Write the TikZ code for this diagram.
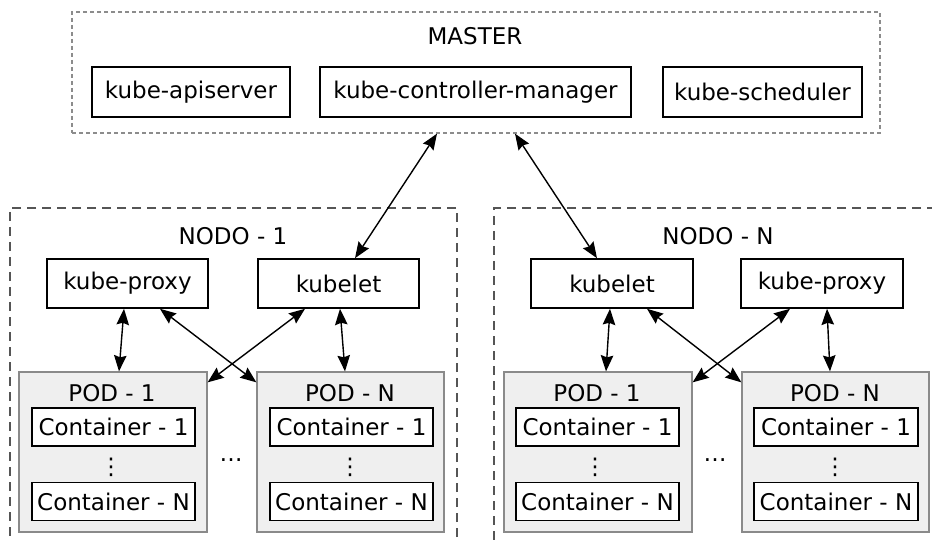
\documentclass[tikz,border=0pt]{standalone}
\usepackage{fontspec}
\setmainfont{DejaVu Sans}
\usetikzlibrary{arrows.meta,calc}

\definecolor{podfill}{HTML}{EFEFEF}
\definecolor{podline}{HTML}{8A8A8A}
\definecolor{framegray}{HTML}{555555}
\definecolor{mastergray}{HTML}{8C8C8C}

\tikzset{
  >={Stealth[length=16pt,width=12.5pt,inset=2pt]},
  lbl/.style={font=\fontsize{23}{27}\selectfont, inner sep=0pt},
  comp/.style={lbl, draw=black, line width=1.6pt, fill=white},
  pod/.style={draw=podline, fill=podfill, line width=1.3pt, minimum width=188pt, minimum height=160pt},
  cont/.style={lbl, draw=black, line width=1.6pt, fill=white, minimum width=163pt, minimum height=38pt},
  hostframe/.style={draw=framegray, line width=1.5pt, dash pattern=on 9pt off 6pt},
  masterframe/.style={draw=mastergray, line width=1.3pt, dash pattern=on 4pt off 3pt},
  link/.style={line width=1.4pt, <->}
}

\begin{document}
\begin{tikzpicture}[x=1pt,y=-1pt]
\useasboundingbox (0,0) rectangle (932,540);
\clip (0,0) rectangle (932,540);

% ---------------- master ----------------
\node[masterframe, minimum width=808pt, minimum height=121pt] (master) at (476,72.5) {};
\node[lbl] (mtitle) at (475,36) {MASTER};
\node[comp, minimum width=198pt, minimum height=50pt] (api) at (191,92) {kube-apiserver};
\node[comp, minimum width=311pt, minimum height=50pt] (ctrl) at (475.5,92) {kube-controller-manager};
\node[comp, minimum width=199pt, minimum height=50pt] (sched) at (762.5,92) {kube-scheduler};

% ---------------- worker node 1 ----------------
\node[hostframe, minimum width=447pt, minimum height=362pt] (n1) at (233.5,389) {};
\node[lbl] (n1title) at (233,236) {NODO - 1};
\node[comp, minimum width=161pt, minimum height=49pt] (kp1) at (127.5,283.5) {kube-proxy};
\node[comp, minimum width=161pt, minimum height=49pt] (kl1) at (338.5,283.5) {kubelet};

\node[pod] (p11) at (113,452) {};
\node[lbl] (p11t) at (112,393) {POD - 1};
\node[cont] (p11c1) at (113.5,427) {Container - 1};
\node[lbl] (p11d) at (111,467) {⋮};
\node[cont] (p11cn) at (113.5,501.5) {Container - N};

\node[pod, minimum width=187pt] (p1n) at (350.5,452) {};
\node[lbl] (p1nt) at (350,393) {POD - N};
\node[cont] (p1nc1) at (351.5,427) {Container - 1};
\node[lbl] (p1nd) at (350,467) {⋮};
\node[cont] (p1ncn) at (351.5,501.5) {Container - N};

\node[lbl] (n1dots) at (231,460) {…};

% ---------------- worker node N ----------------
\node[hostframe, minimum width=460pt, minimum height=362pt] (nn) at (724,389) {};
\node[lbl] (nntitle) at (718,236) {NODO - N};
\node[comp, minimum width=162pt, minimum height=49pt] (kln) at (612,283.5) {kubelet};
\node[comp, minimum width=162pt, minimum height=49pt] (kpn) at (822,283.5) {kube-proxy};

\node[pod] (pn1) at (598,452) {};
\node[lbl] (pn1t) at (597,393) {POD - 1};
\node[cont] (pn1c1) at (597.5,427) {Container - 1};
\node[lbl] (pn1d) at (595,467) {⋮};
\node[cont] (pn1cn) at (597.5,501.5) {Container - N};

\node[pod, minimum width=187pt] (pnn) at (835.5,452) {};
\node[lbl] (pnnt) at (835,393) {POD - N};
\node[cont, minimum width=164pt] (pnnc1) at (836,427) {Container - 1};
\node[lbl] (pnnd) at (835,467) {⋮};
\node[cont, minimum width=164pt] (pnncn) at (836,501.5) {Container - N};

\node[lbl] (nndots) at (715,460) {…};

% ---------------- links ----------------
\draw[link] ([xshift=-39pt]master.south) -- ([xshift=16.5pt]kl1.north);
\draw[link] ([xshift=39pt]master.south) -- ([xshift=-15pt]kln.north);

\draw[link] ([xshift=-3.5pt]kp1.south) -- ([xshift=6pt]p11.north);
\draw[link] ([xshift=32.5pt]kp1.south) -- ([yshift=-11pt]p1n.north west);
\draw[link] ([xshift=-33.5pt]kl1.south) -- ([yshift=-11pt]p11.north east);
\draw[link] ([xshift=1.5pt]kl1.south) -- ([xshift=-5.5pt]p1n.north);

\draw[link] ([xshift=-2pt]kln.south) -- ([xshift=8pt]pn1.north);
\draw[link] ([xshift=35pt]kln.south) -- ([yshift=-11pt]pnn.north west);
\draw[link] ([xshift=-32pt]kpn.south) -- ([yshift=-11pt]pn1.north east);
\draw[link] ([xshift=5pt]kpn.south) -- ([xshift=-5.5pt]pnn.north);
\end{tikzpicture}
\end{document}
